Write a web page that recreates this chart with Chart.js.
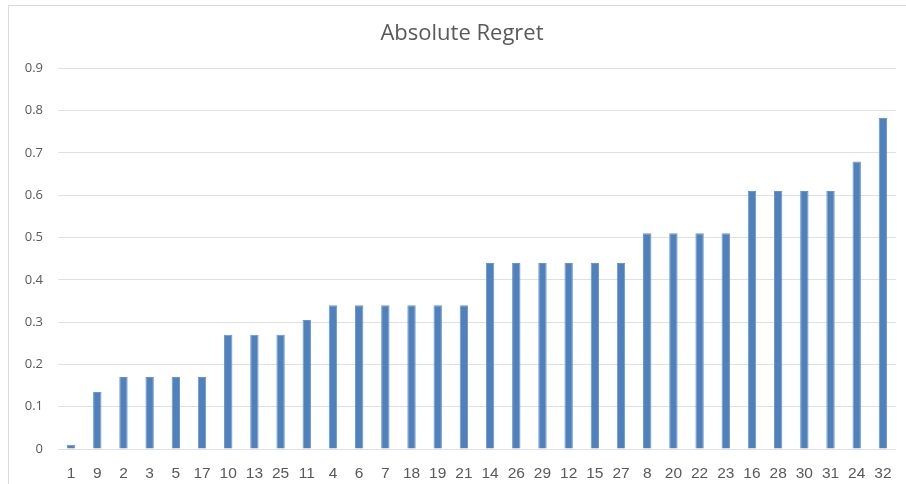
<!DOCTYPE html>
<html lang="en">
<head>
  <meta charset="UTF-8" />
  <title>Absolute Regret</title>
  <script src="https://cdn.jsdelivr.net/npm/chart.js"></script>
  <style>
    body {
      margin: 0;
      padding: 0;
      background: #ffffff;
      overflow: hidden;
    }
    #frame {
      position: absolute;
      left: 8px;
      top: 5px;
      width: 1000px;
      height: 600px;
      border: 1px solid #d9d9d9;
    }
    #chart-container {
      position: absolute;
      left: 0;
      top: 0;
      width: 906px;
      height: 484px;
    }
  </style>
</head>
<body>
  <div id="frame"></div>
  <div id="chart-container">
    <canvas id="regretChart" width="906" height="484"></canvas>
  </div>

  <script>
    // scenario ids, sorted by regret
    const scenarios = ["1", "9", "2", "3", "5", "17", "10", "13", "25", "11", "4", "6", "7", "18", "19", "21",
                       "14", "26", "29", "12", "15", "27", "8", "20", "22", "23", "16", "28", "30", "31", "24", "32"];
    const regret = [0.01, 0.135, 0.17, 0.17, 0.17, 0.17, 0.27, 0.27, 0.27, 0.305, 0.34, 0.34, 0.34, 0.34, 0.34, 0.34,
                    0.44, 0.44, 0.44, 0.44, 0.44, 0.44, 0.51, 0.51, 0.51, 0.51, 0.61, 0.61, 0.61, 0.61, 0.68, 0.783];
    const yTicks = [0, 0.1, 0.2, 0.3, 0.4, 0.5, 0.6, 0.7, 0.8, 0.9];

    // the original frame is wider than the crop, so its title sits a bit right of centre
    const shiftTitle = {
      id: 'shiftTitle',
      afterLayout(chart) {
        if (chart.titleBlock) chart.titleBlock.left = 28;
      }
    };

    const ctx = document.getElementById('regretChart').getContext('2d');
    new Chart(ctx, {
      type: 'bar',
      data: {
        labels: scenarios,
        datasets: [{
          label: "Absolute Regret",
          data: regret,
          backgroundColor: '#4f81bd',
          borderColor: '#6a94c8',
          borderWidth: 1,
          borderSkipped: 'bottom',
          barPercentage: 1,
          categoryPercentage: 0.32
        }]
      },
      options: {
        responsive: false,
        animation: false,
        layout: { padding: { left: 0, right: 10, top: 0, bottom: 0 } },
        plugins: {
          legend: { display: false },
          tooltip: { enabled: false },
          title: {
            display: true,
            text: 'Absolute Regret',
            color: '#595959',
            font: { family: 'Open Sans', size: 22, weight: 'normal' },
            padding: { top: 21, bottom: 21 }
          }
        },
        scales: {
          y: {
            min: 0,
            max: 0.9,
            afterFit: s => { s.width = 58; },
            afterBuildTicks: s => { s.ticks = yTicks.map(v => ({ value: v })); },
            border: { display: false },
            grid: { color: '#e0e0e0', drawTicks: false, lineWidth: 1 },
            ticks: {
              padding: 15,
              color: '#595959',
              font: { family: 'Open Sans', size: 13 },
              callback: v => v === 0 ? '0' : v.toFixed(1)
            }
          },
          x: {
            afterFit: s => { s.height = 35; },
            border: { display: false },
            grid: { display: false },
            ticks: {
              padding: 7,
              maxRotation: 0,
              autoSkip: false,
              color: '#595959',
              font: { family: 'Liberation Sans', size: 15.5 }
            }
          }
        }
      },
      plugins: [shiftTitle]
    });
  </script>
</body>
</html>
